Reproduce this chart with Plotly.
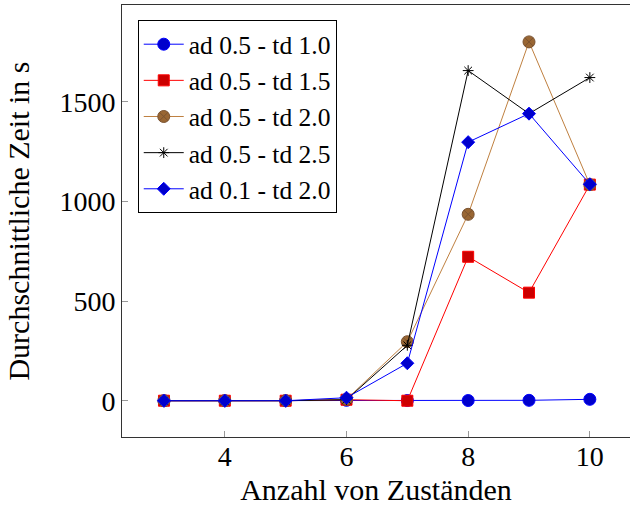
import plotly.graph_objects as go

x_vals = [3, 4, 5, 6, 7, 8, 9, 10]
s_ad05_td10 = [0, 0, 0, 2, 1, 1, 2, 7]
s_ad05_td15 = [0, 0, 0, 5, 0, 722, 542, 1084]
s_ad05_td20 = [0, 0, 0, 7, 296, 935, 1800, 1084]
s_ad05_td25 = [0, 0, 0, 5, 278, 1656, 1440, 1621]
s_ad01_td20 = [0, 0, 0, 15, 188, 1297, 1440, 1086]
names = ["ad 0.5 - td 1.0", "ad 0.5 - td 1.5", "ad 0.5 - td 2.0",
         "ad 0.5 - td 2.5", "ad 0.1 - td 2.0"]
x_ticks = [4, 6, 8, 10]
y_ticks = [0, 500, 1000, 1500]

FONT = "Liberation Serif, Times New Roman, serif"
f_tick = dict(family=FONT, size=28, color="black")
f_text = dict(family=FONT, size=30, color="black")
f_leg = dict(family=FONT, size=25.5, color="black")

series = [
    (s_ad05_td10, "#0000ff", "circle", "#0000cc", 12, 1),
    (s_ad05_td15, "#ff0000", "square", "#cc0000", 11, 1),
    (s_ad05_td20, "#bf8040", "circle-x", "#996633", 12, 1),
    (s_ad05_td25, "#000000", "asterisk-open", "#000000", 9, 1),
    (s_ad01_td20, "#0000ff", "diamond", "#0000cc", 10, 1),
]

fig = go.Figure()
for (vals, lc, sym, fc, size, lw), nm in zip(series, names):
    fig.add_trace(go.Scatter(
        x=x_vals, y=vals, name=nm, mode="lines+markers",
        line=dict(color=lc, width=1),
        marker=dict(symbol=sym, size=size, color=fc,
                    line=dict(color=lc if sym != "circle-x" else "#7a5230", width=lw)),
    ))

fig.update_layout(
    width=630, height=508,
    margin=dict(l=122, r=0, t=5, b=71),
    paper_bgcolor="white", plot_bgcolor="white",
    font=f_text,
    showlegend=True,
    legend=dict(x=0.031, y=0.965, xanchor="left", yanchor="top",
                bordercolor="black", borderwidth=1, bgcolor="white",
                font=f_leg, tracegroupgap=0, itemwidth=40,
                entrywidth=195, entrywidthmode="pixels"),
)
fig.update_xaxes(
    range=[2.31, 10.66], tickvals=x_ticks, ticktext=[str(v) for v in x_ticks],
    tickfont=f_tick, ticklabelstandoff=-6,
    showgrid=False, zeroline=False, showline=True, linecolor="#333333",
    linewidth=1, mirror=True, ticks="inside", ticklen=6, tickcolor="#999999",
    title=dict(text="Anzahl von Zuständen", font=f_text, standoff=8),
)
fig.update_yaxes(
    range=[-182, 1985], tickvals=y_ticks, ticktext=[str(v) for v in y_ticks],
    tickfont=f_tick,
    showgrid=False, zeroline=False, showline=True, linecolor="#333333",
    linewidth=1, ticks="inside", ticklen=6, tickcolor="#999999",
    title=dict(text="Durchschnittliche Zeit in s", font=f_text, standoff=20),
)

fig.write_html("out.html", config={"displayModeBar": False},
               post_script="document.body.style.margin='0';document.body.style.overflow='hidden';")
